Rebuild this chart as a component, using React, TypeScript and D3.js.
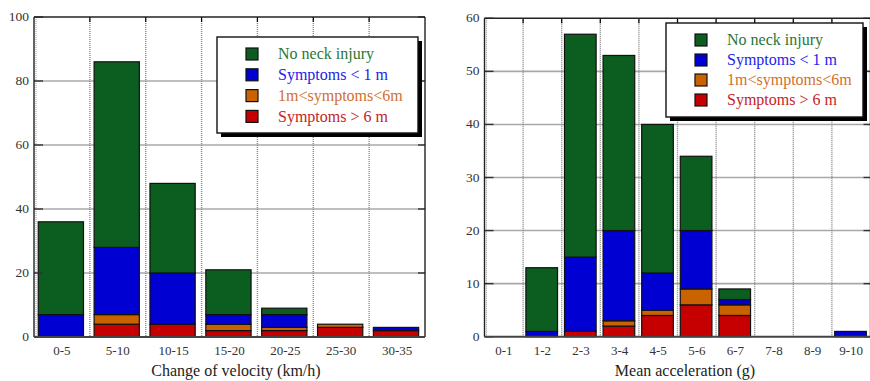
import React from 'react';
import { scaleBand, scaleLinear, stack } from 'd3';

const seriesNames = ['No neck injury', 'Symptoms < 1 m', '1m<symptoms<6m', 'Symptoms > 6 m'];
const seriesKeys = ['red', 'orange', 'blue', 'green'];

// Change of velocity (km/h)
const velocityCats = ['0-5', '5-10', '10-15', '15-20', '20-25', '25-30', '30-35'];
const velocityRed = [0, 4, 4, 2, 2, 3, 2];
const velocityOrange = [0, 3, 0, 2, 1, 1, 0];
const velocityBlue = [7, 21, 16, 3, 4, 0, 1];
const velocityGreen = [29, 58, 28, 14, 2, 0, 0];
const velocityTicks = [0, 20, 40, 60, 80, 100];

// Mean acceleration (g)
const accelCats = ['0-1', '1-2', '2-3', '3-4', '4-5', '5-6', '6-7', '7-8', '8-9', '9-10'];
const accelRed = [0, 0, 1, 2, 4, 6, 4, 0, 0, 0];
const accelOrange = [0, 0, 0, 1, 1, 3, 2, 0, 0, 0];
const accelBlue = [0, 1, 14, 17, 7, 11, 1, 0, 0, 1];
const accelGreen = [0, 12, 42, 33, 28, 14, 2, 0, 0, 0];
const accelTicks = [0, 10, 20, 30, 40, 50, 60];

const fills: Record<string, string> = {
  green: '#0b5e1f',
  blue: '#0000d2',
  orange: '#c96200',
  red: '#c60000',
};
const legendText = ['#2a7636', '#2323e8', '#d2702e', '#c52424'];
const legendKeys = ['green', 'blue', 'orange', 'red'];

const FONT = "'Liberation Serif', 'DejaVu Serif', serif";

type ChartProps = {
  cats: string[];
  red: number[];
  orange: number[];
  blue: number[];
  green: number[];
  ticks: number[];
  x0: number;
  x1: number;
  top: number;
  bottom: number;
  padding: number;
  title: string;
  titleX: number;
  legend: { x: number; y: number; w: number; h: number; row: number };
};

const Chart = (p: ChartProps) => {
  const rows = p.cats.map((c, i) => ({
    cat: c,
    red: p.red[i],
    orange: p.orange[i],
    blue: p.blue[i],
    green: p.green[i],
  }));
  const layers = stack<any>().keys(seriesKeys)(rows);

  const xScale = scaleBand().domain(p.cats).range([p.x0, p.x1]).paddingInner(p.padding).paddingOuter(p.padding / 2).align(0.4);
  const step = xScale.step();
  const yScale = scaleLinear()
    .domain([0, p.ticks[p.ticks.length - 1]])
    .range([p.bottom, p.top]);

  const bounds = p.cats.slice(1).map((_, i) => p.x0 + step * (i + 1));

  return (
    <g>
      {/* horizontal grid */}
      {p.ticks.slice(1, -1).map(t => (
        <line key={t} x1={p.x0} x2={p.x1} y1={yScale(t)} y2={yScale(t)} stroke='#a8a8a8' strokeWidth={1.6} />
      ))}
      {/* vertical dotted lines between categories */}
      {bounds.map((b, i) => (
        <g key={i}>
          <line x1={b} x2={b} y1={p.top} y2={p.bottom} stroke='#888' strokeWidth={1.4} strokeDasharray='1,1' />
          <line x1={b} x2={b} y1={p.top} y2={p.top + 5} stroke='#000' strokeWidth={1.2} />
        </g>
      ))}
      <line x1={p.x0 + 2} x2={p.x0 + 2} y1={p.top} y2={p.bottom} stroke='#999' strokeWidth={1} strokeDasharray='1,1' />
      {/* bars */}
      {layers.map(layer =>
        layer.map((d: any, i: number) =>
          d[1] - d[0] > 0 ? (
            <rect
              key={layer.key + i}
              x={xScale(p.cats[i])}
              y={yScale(d[1])}
              width={xScale.bandwidth()}
              height={yScale(d[0]) - yScale(d[1])}
              fill={fills[layer.key]}
              stroke='#111'
              strokeWidth={1.2}
            />
          ) : null
        )
      )}
      {/* y ticks */}
      {p.ticks.map(t => (
        <g key={t}>
          <line x1={p.x0} x2={p.x0 + 9} y1={yScale(t)} y2={yScale(t)} stroke='#333' strokeWidth={1.4} />
          <line x1={p.x1 - 7} x2={p.x1} y1={yScale(t)} y2={yScale(t)} stroke='#333' strokeWidth={1.4} />
          <text x={p.x0 - 5} y={yScale(t)} dy='0.3em' textAnchor='end' fontSize={13.5} fill='#333'>
            {t}
          </text>
        </g>
      ))}
      {/* frame */}
      <line x1={p.x0} x2={p.x1} y1={p.top} y2={p.top} stroke='#222' strokeWidth={1.4} />
      <line x1={p.x0} x2={p.x0} y1={p.top} y2={p.bottom} stroke='#222' strokeWidth={1.4} />
      <line x1={p.x1} x2={p.x1} y1={p.top} y2={p.bottom} stroke='#222' strokeWidth={1.4} />
      <line x1={p.x0} x2={p.x1} y1={p.bottom} y2={p.bottom} stroke='#444' strokeWidth={2} />
      {/* x labels */}
      {p.cats.map(c => (
        <text key={c} x={p.x0 + step * (p.cats.indexOf(c) + 0.5)} y={p.bottom + 18} textAnchor='middle' fontSize={13} fill='#333'>
          {c}
        </text>
      ))}
      <text x={p.titleX} y={p.bottom + 39} textAnchor='middle' fontSize={16} fill='#222'>
        {p.title}
      </text>
      {/* legend */}
      <rect x={p.legend.x + 4} y={p.legend.y + 4} width={p.legend.w} height={p.legend.h} fill='#000' />
      <rect x={p.legend.x} y={p.legend.y} width={p.legend.w} height={p.legend.h} fill='#fff' stroke='#111' strokeWidth={1.4} />
      {legendKeys.map((k, i) => {
        const cy = p.legend.y + 17 + i * p.legend.row;
        return (
          <g key={k}>
            <rect x={p.legend.x + 29} y={cy - 6} width={12} height={12} fill={fills[k]} stroke='#111' strokeWidth={1.2} />
            <text x={p.legend.x + 61} y={cy} dy='0.33em' fontSize={16} fill={legendText[i]}>
              {seriesNames[i]}
            </text>
          </g>
        );
      })}
    </g>
  );
};

export default function App() {
  return (
    <svg width={870} height={381} style={{ position: 'absolute', left: 0, top: 0, background: '#fff', fontFamily: FONT }}>
      <Chart
        cats={velocityCats}
        red={velocityRed}
        orange={velocityOrange}
        blue={velocityBlue}
        green={velocityGreen}
        ticks={velocityTicks}
        x0={34}
        x1={425}
        top={17}
        bottom={337}
        padding={0.19}
        title='Change of velocity (km/h)'
        titleX={236}
        legend={{ x: 217, y: 37, w: 201, h: 96, row: 20.8 }}
      />
      <Chart
        cats={accelCats}
        red={accelRed}
        orange={accelOrange}
        blue={accelBlue}
        green={accelGreen}
        ticks={accelTicks}
        x0={484.5}
        x1={870.5}
        top={18.3}
        bottom={336.7}
        padding={0.18}
        title='Mean acceleration (g)'
        titleX={685}
        legend={{ x: 666, y: 23, w: 197, h: 94, row: 20 }}
      />
    </svg>
  );
}
